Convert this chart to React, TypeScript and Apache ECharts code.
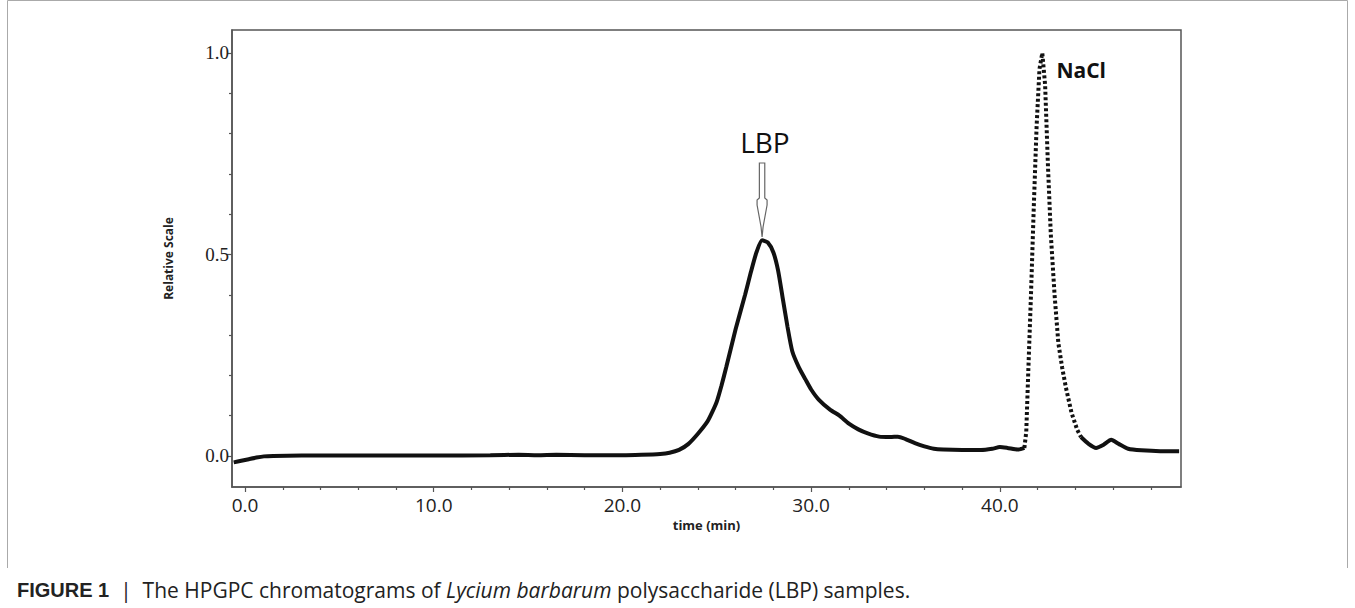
import React, { useEffect, useRef } from "react";
import * as echarts from "echarts";

// ---- data ----
const lbpTime = [-0.6, -0.2, 0.2, 0.6, 1.0, 1.5, 3, 6, 10, 13, 14.5, 15.5, 16.5, 18, 20, 21, 22, 22.5, 23, 23.5, 24, 24.5, 24.75, 25, 25.25, 25.5, 26, 26.5, 26.8, 27.1, 27.4, 27.7, 28.0, 28.25, 28.5, 28.75, 29.0, 29.35, 29.7, 30.0, 30.4, 31.0, 31.5, 32.0, 32.5, 33.0, 33.6, 34.2, 34.6, 35.0, 35.5, 36.0, 36.5, 37.0, 38.0, 39.0, 39.6, 40.0, 40.4, 41.0, 41.3];
const lbpValue = [-0.016, -0.012, -0.008, -0.004, -0.001, 0.0, 0.001, 0.001, 0.001, 0.002, 0.003, 0.002, 0.003, 0.002, 0.002, 0.003, 0.005, 0.008, 0.015, 0.03, 0.055, 0.085, 0.108, 0.135, 0.175, 0.22, 0.315, 0.40, 0.455, 0.505, 0.535, 0.53, 0.505, 0.46, 0.39, 0.32, 0.26, 0.22, 0.19, 0.165, 0.14, 0.115, 0.1, 0.08, 0.066, 0.056, 0.048, 0.047, 0.048, 0.042, 0.032, 0.024, 0.018, 0.016, 0.015, 0.015, 0.018, 0.022, 0.02, 0.016, 0.02];

const naclTime = [41.3, 41.4, 41.5, 41.65, 41.8, 41.95, 42.1, 42.25, 42.4, 42.55, 42.7, 42.9, 43.1, 43.3, 43.5, 43.8, 44.1, 44.3];
const naclValue = [0.02, 0.06, 0.2, 0.4, 0.62, 0.82, 0.96, 1.0, 0.92, 0.72, 0.55, 0.4, 0.28, 0.22, 0.17, 0.107, 0.065, 0.047];

const tailTime = [44.3, 44.7, 45.1, 45.5, 45.9, 46.3, 46.8, 47.5, 48.5, 49.5];
const tailValue = [0.047, 0.03, 0.02, 0.028, 0.04, 0.03, 0.018, 0.014, 0.012, 0.012];

const xMajorTicks = [0, 10, 20, 30, 40];
const xMinorTicks = [2, 4, 6, 8, 12, 14, 16, 18, 22, 24, 26, 28, 32, 34, 36, 38, 42, 44, 46, 48];
const yMajorTicks = [0, 0.5, 1.0];
const yMinorTicks = [0.1, 0.2, 0.3, 0.4, 0.6, 0.7, 0.8, 0.9];

const X_MIN = -0.69;
const X_MAX = 49.6;
const Y_MIN = -0.077;
const Y_MAX = 1.057;

const zip = (a: number[], b: number[]) => a.map((v, i) => [v, b[i]]);

export default function App() {
  const ref = useRef<HTMLDivElement>(null);
  useEffect(() => {
    document.body.style.margin = "0";
    const chart = echarts.init(ref.current!, null, { renderer: "svg" });
    const axisColor = "#555";
    const lineStyle = { color: "#111", width: 4 };
    chart.setOption({
      animation: false,
      backgroundColor: "#fff",
      grid: {
        left: 232,
        top: 30,
        right: 1355 - 1181,
        bottom: 608 - 487,
        show: true,
        borderColor: axisColor,
        borderWidth: 1.5,
        backgroundColor: "transparent",
      },
      xAxis: [
        {
          type: "value",
          min: X_MIN,
          max: X_MAX,
          splitLine: { show: false },
          axisLine: { show: true, onZero: false, lineStyle: { color: axisColor, width: 1.5 } },
          axisTick: { show: true, customValues: xMajorTicks, length: 5, lineStyle: { color: axisColor, width: 1.2 } },
          axisLabel: {
            customValues: xMajorTicks,
            formatter: (v: number) => v.toFixed(1),
            fontFamily: "Open Sans, sans-serif",
            fontSize: 19,
            color: "#222",
            margin: 8,
          },
          name: "time (min)",
          nameLocation: "middle",
          nameGap: 25,
          nameTextStyle: { fontFamily: "Open Sans, sans-serif", fontWeight: "bold", fontSize: 13, color: "#222" },
        },
        {
          type: "value",
          min: X_MIN,
          max: X_MAX,
          position: "bottom",
          splitLine: { show: false },
          axisLine: { show: false, onZero: false },
          axisTick: { show: true, customValues: xMinorTicks, length: 3, lineStyle: { color: axisColor, width: 1.2 } },
          axisLabel: { show: false },
        },
      ],
      yAxis: [
        {
          type: "value",
          min: Y_MIN,
          max: Y_MAX,
          splitLine: { show: false },
          axisLine: { show: true, onZero: false, lineStyle: { color: axisColor, width: 1.5 } },
          axisTick: { show: true, customValues: yMajorTicks, length: 5, lineStyle: { color: axisColor, width: 1.2 } },
          axisLabel: {
            customValues: yMajorTicks,
            formatter: (v: number) => v.toFixed(1),
            fontFamily: "Liberation Serif, serif",
            fontSize: 19,
            color: "#222",
            margin: 3,
          },
          name: "Relative Scale",
          nameLocation: "middle",
          nameRotate: 90,
          nameGap: 58,
          nameTextStyle: { fontFamily: "Open Sans, sans-serif", fontWeight: "bold", fontSize: 12, color: "#222" },
        },
        {
          type: "value",
          min: Y_MIN,
          max: Y_MAX,
          position: "left",
          splitLine: { show: false },
          axisLine: { show: false, onZero: false },
          axisTick: { show: true, customValues: yMinorTicks, length: 3, lineStyle: { color: axisColor, width: 1.2 } },
          axisLabel: { show: false },
        },
      ],
      series: [
        {
          type: "line",
          data: zip(lbpTime, lbpValue),
          showSymbol: false,
          symbol: "none",
          smooth: 0.2,
          lineStyle,
          z: 3,
        },
        {
          type: "line",
          data: zip(naclTime, naclValue),
          showSymbol: false,
          symbol: "none",
          lineStyle: { color: "#111", width: 4, type: [3, 2.5] },
          z: 3,
        },
        {
          type: "line",
          data: zip(tailTime, tailValue),
          showSymbol: false,
          symbol: "none",
          smooth: 0.2,
          lineStyle,
          z: 3,
        },
      ],
    });

    const p = (t: number, v: number) => chart.convertToPixel({ xAxisIndex: 0, yAxisIndex: 0 }, [t, v]) as number[];
    const arrowTop = p(27.4, 0.727);
    const lbpText = p(27.55, 0.78);
    const naclText = p(43.0, 0.958);
    const cx = arrowTop[0];
    const ty = arrowTop[1];
    const arrowPts = [
      [-2.7, 0], [2.7, 0], [2.7, 35], [5, 37], [5, 42], [1, 64], [0, 74], [-1, 64], [-5, 42], [-5, 37], [-2.7, 35],
    ].map(([dx, dy]) => [cx + dx, ty + dy]);

    chart.setOption({
      graphic: [
        // figure frame
        { type: "line", shape: { x1: 7.5, y1: 0.5, x2: 1347.5, y2: 0.5 }, style: { stroke: "#aaa", lineWidth: 1 } },
        { type: "line", shape: { x1: 7.5, y1: 0.5, x2: 7.5, y2: 568 }, style: { stroke: "#aaa", lineWidth: 1 } },
        { type: "line", shape: { x1: 1347.5, y1: 0.5, x2: 1347.5, y2: 568 }, style: { stroke: "#aaa", lineWidth: 1 } },
        {
          type: "polygon",
          shape: { points: arrowPts },
          style: { fill: "#fff", stroke: "#666", lineWidth: 1.2 },
          z: 10,
        },
        {
          type: "text",
          x: lbpText[0],
          y: lbpText[1],
          style: {
            text: "LBP",
            fontFamily: "Open Sans, sans-serif",
            fontSize: 28,
            fill: "#111",
            align: "center",
            verticalAlign: "middle",
          },
          z: 10,
        },
        {
          type: "text",
          x: naclText[0],
          y: naclText[1],
          style: {
            text: "NaCl",
            fontFamily: "Open Sans, sans-serif",
            fontWeight: "bold",
            fontSize: 21,
            fill: "#111",
            align: "left",
            verticalAlign: "middle",
          },
          z: 10,
        },
        {
          type: "text",
          x: 17,
          y: 590,
          style: {
            text: "{b|FIGURE 1}{n|  |  The HPGPC chromatograms of }{i|Lycium barbarum}{n| polysaccharide (LBP) samples.}",
            verticalAlign: "middle",
            rich: {
              b: { fontFamily: "Liberation Sans, Arial, sans-serif", fontWeight: "bold", fontSize: 20, fill: "#222" },
              n: { fontFamily: "Open Sans, sans-serif", fontSize: 21, fill: "#222" },
              i: { fontFamily: "Open Sans, sans-serif", fontStyle: "italic", fontSize: 21, fill: "#222" },
            },
          },
        },
      ],
    });
    return () => chart.dispose();
  }, []);
  return <div ref={ref} style={{ width: 1355, height: 608 }} />;
}
